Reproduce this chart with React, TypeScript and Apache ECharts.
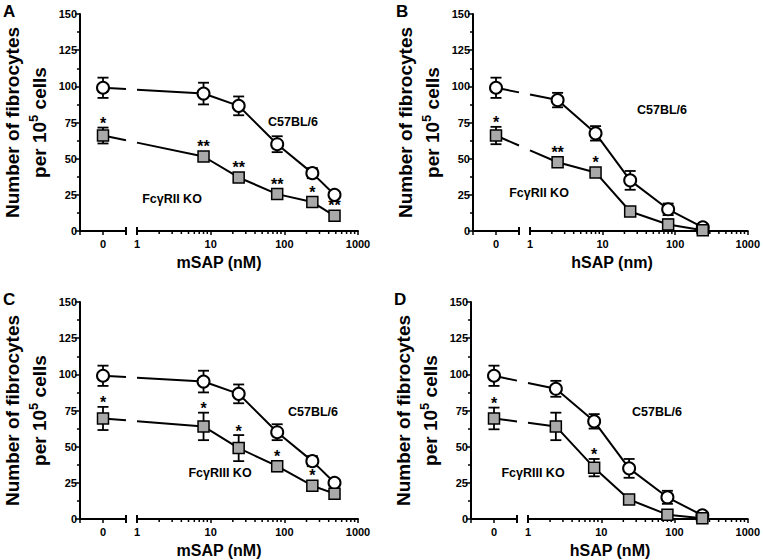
import React, { useEffect, useRef } from 'react';
import * as echarts from 'echarts';

// ---------------- data ----------------
const MSAP_NM = [0, 8, 24, 80, 240, 480];
const HSAP_NM = [0, 2.4, 8, 24, 80, 240];
const LOG_TICK_LABELS = [1, 10, 100, 1000];
const LOG_MINOR_TICKS = [2, 3, 4, 5, 6, 7, 8, 9, 20, 30, 40, 50, 60, 70, 80, 90, 200, 300, 400, 500, 600, 700, 800, 900];
const Y_MIN = 0;
const Y_MAX = 150;
const Y_STEP = 25;

const WT_A = [99, 95, 86.5, 60, 40, 25];
const WT_A_SEM = [7, 7.5, 6.5, 5.5, 3.5, 1];
const KO_A = [66, 51.5, 37, 25.5, 20, 10.5];
const KO_A_SEM = [5.5, 2, 2, 2, 3.5, 1.5];
const KO_A_SIG = ['*', '**', '**', '**', '*', '**'];

const WT_B = [99, 90.5, 67.5, 35, 15, 2.5];
const WT_B_SEM = [7, 5, 5, 6.5, 4, 1];
const KO_B = [66, 47.5, 40.5, 13.5, 4.5, 0.5];
const KO_B_SEM = [6, 2, 2, 1, 3.5, 0.5];
const KO_B_SIG = ['*', '**', '*', '', '', ''];

const WT_C = [99, 95, 86.5, 60, 40, 25];
const WT_C_SEM = [7, 7.5, 6.5, 5.5, 3.5, 1];
const KO_C = [69.5, 64, 49, 36.5, 23, 17.5];
const KO_C_SEM = [8, 9.5, 9, 3.5, 2.5, 1];
const KO_C_SIG = ['*', '*', '*', '*', '*', ''];

const WT_D = [99, 90, 67.5, 35, 15, 2.5];
const WT_D_SEM = [7, 5.5, 5, 6.5, 4.5, 1];
const KO_D = [69.5, 64, 35.5, 13.5, 3, 0.5];
const KO_D_SEM = [7.5, 9.5, 6, 1, 1, 0.5];
const KO_D_SIG = ['*', '', '*', '', '', ''];

const WT_NAME = 'C57BL/6';

// ---------------- layout ----------------
const FONT = '"Liberation Sans", Arial, Helvetica, sans-serif';
const Y_AXIS_X = 80;
const BREAK_L = 126;
const BREAK_R = 137;
const LOG_END = 358;
const PLOT_TOP = 14;
const PLOT_BOTTOM = 231;

const PANELS = [
  { letter: 'A', ox: 0, oy: 0, conc: MSAP_NM, wt: WT_A, wtSem: WT_A_SEM, ko: KO_A, koSem: KO_A_SEM, sig: KO_A_SIG,
    xTitle: 'mSAP (nM)', koName: 'FcγRII KO', wtPos: [293, 122], koPos: [172, 199] },
  { letter: 'B', ox: 393, oy: 0, conc: HSAP_NM, wt: WT_B, wtSem: WT_B_SEM, ko: KO_B, koSem: KO_B_SEM, sig: KO_B_SIG,
    xTitle: 'hSAP (nm)', koName: 'FcγRII KO', wtPos: [662, 110], koPos: [539, 193] },
  { letter: 'C', ox: 0, oy: 288, conc: MSAP_NM, wt: WT_C, wtSem: WT_C_SEM, ko: KO_C, koSem: KO_C_SEM, sig: KO_C_SIG,
    xTitle: 'mSAP (nM)', koName: 'FcγRIII KO', wtPos: [313, 412], koPos: [220, 473] },
  { letter: 'D', ox: 391, oy: 288, conc: HSAP_NM, wt: WT_D, wtSem: WT_D_SEM, ko: KO_D, koSem: KO_D_SEM, sig: KO_D_SIG,
    xTitle: 'hSAP (nM)', koName: 'FcγRIII KO', wtPos: [657, 412], koPos: [533, 473] },
];

const BLACK = '#000';
const GRAY = '#a9a9a9';
const tickLabel = { color: BLACK, fontSize: 11, fontWeight: 'bold', fontFamily: FONT };

function errRender(sigs: string[]) {
  return (params: any, api: any) => {
    const x = api.value(0);
    const y = api.value(1);
    const e = api.value(2);
    const c = api.coord([x, y]);
    const top = api.coord([x, y + e]);
    const bot = api.coord([x, Math.max(0, y - e)]);
    const cap = 5.5;
    const st = { stroke: BLACK, lineWidth: 1.8 };
    const children: any[] = [
      { type: 'line', shape: { x1: c[0], y1: top[1], x2: c[0], y2: bot[1] }, style: st },
      { type: 'line', shape: { x1: c[0] - cap, y1: top[1], x2: c[0] + cap, y2: top[1] }, style: st },
      { type: 'line', shape: { x1: c[0] - cap, y1: bot[1], x2: c[0] + cap, y2: bot[1] }, style: st },
    ];
    const s = sigs[params.dataIndex];
    if (s) {
      const yTop = Math.min(top[1], c[1] - 6);
      children.push({
        type: 'text', x: c[0], y: yTop + 4,
        style: { text: s, align: 'center', verticalAlign: 'bottom', textAlign: 'center', textVerticalAlign: 'bottom',
          fontSize: 16, fontWeight: 'bold', fontFamily: FONT, fill: BLACK },
      });
    }
    return { type: 'group', children };
  };
}

function buildOption() {
  const grid: any[] = [];
  const xAxis: any[] = [];
  const yAxis: any[] = [];
  const series: any[] = [];
  const graphic: any[] = [];

  PANELS.forEach((p, i) => {
    const gL = 2 * i;
    const gR = 2 * i + 1;
    const h = PLOT_BOTTOM - PLOT_TOP;
    grid.push({ left: p.ox + Y_AXIS_X, top: p.oy + PLOT_TOP, width: BREAK_L - Y_AXIS_X, height: h });
    grid.push({ left: p.ox + BREAK_R, top: p.oy + PLOT_TOP, width: LOG_END - BREAK_R, height: h });

    const axLine = { show: true, onZero: false, lineStyle: { color: BLACK, width: 2 } };
    xAxis.push({
      gridIndex: gL, type: 'value', min: -1, max: 1, interval: 1,
      axisLine: axLine,
      axisTick: { show: true, length: 4, lineStyle: { color: BLACK, width: 1.5 } },
      axisLabel: { ...tickLabel, margin: 7, showMinLabel: true, showMaxLabel: true, formatter: (v: number) => (v === 0 ? '0' : '') },
      splitLine: { show: false },
    });
    xAxis.push({
      gridIndex: gR, type: 'log', logBase: 10, min: 1, max: 1000,
      axisLine: axLine,
      axisTick: { show: true, length: 4, lineStyle: { color: BLACK, width: 1.5 } },
      axisLabel: { ...tickLabel, margin: 7, showMinLabel: true, showMaxLabel: true,
        formatter: (v: number) => (LOG_TICK_LABELS.includes(Math.round(v)) ? String(Math.round(v)) : '') },
      splitLine: { show: false },
      minorTick: { show: false },
    });
    yAxis.push({
      gridIndex: gL, type: 'value', min: Y_MIN, max: Y_MAX, interval: Y_STEP,
      axisLine: axLine,
      axisTick: { show: true, length: 5, lineStyle: { color: BLACK, width: 1.5 } },
      minorTick: { show: true, splitNumber: 2, length: 3, lineStyle: { color: BLACK, width: 1.5 } },
      axisLabel: { ...tickLabel, margin: 3 },
      splitLine: { show: false },
    });
    yAxis.push({ gridIndex: gR, type: 'value', min: Y_MIN, max: Y_MAX, show: false, splitLine: { show: false } });

    const zeroX = p.ox + Y_AXIS_X + (BREAK_L - Y_AXIS_X) / 2;
    const gap = BREAK_R - BREAK_L;

    // axis decoration: log minor ticks and break marks
    series.push({
      type: 'custom', xAxisIndex: gR, yAxisIndex: gR, silent: true, z: 1,
      data: [[1, 0]], encode: { x: 0, y: 1 },
      renderItem: (params: any, api: any) => {
        const o = api.coord([1, 0]);
        const ch: any[] = LOG_MINOR_TICKS.map((t) => {
          const q = api.coord([t, 0]);
          return { type: 'line', shape: { x1: q[0], y1: q[1], x2: q[0], y2: q[1] + 3 }, style: { stroke: BLACK, lineWidth: 1.5 } };
        });
        [o[0] - gap, o[0]].forEach((bx) => {
          ch.push({ type: 'line', shape: { x1: bx, y1: o[1] - 4, x2: bx, y2: o[1] + 4 }, style: { stroke: BLACK, lineWidth: 2 } });
        });
        return { type: 'group', children: ch };
      },
    });

    // broken connectors from 0 to first concentration
    series.push({
      type: 'custom', xAxisIndex: gR, yAxisIndex: gR, silent: true, z: 2,
      data: [[p.conc[1], p.wt[1], p.wt[0]], [p.conc[1], p.ko[1], p.ko[0]]],
      encode: { x: 0, y: 1 },
      renderItem: (params: any, api: any) => {
        const p1 = api.coord([api.value(0), api.value(1)]);
        const y0 = api.coord([1, api.value(2)])[1];
        const xa = p.ox + BREAK_L;
        const xb = p.ox + BREAK_R;
        const yAt = (x: number) => y0 + ((p1[1] - y0) * (x - zeroX)) / (p1[0] - zeroX);
        const st = { stroke: BLACK, lineWidth: 2 };
        return {
          type: 'group',
          children: [
            { type: 'line', shape: { x1: zeroX, y1: y0, x2: xa, y2: yAt(xa) }, style: st },
            { type: 'line', shape: { x1: xb, y1: yAt(xb), x2: p1[0], y2: p1[1] }, style: st },
          ],
        };
      },
    });

    const groups = [
      { vals: p.wt, sem: p.wtSem, sig: p.wt.map(() => ''), symbol: 'circle', size: 12, fill: '#fff', bw: 2 },
      { vals: p.ko, sem: p.koSem, sig: p.sig, symbol: 'rect', size: 11, fill: GRAY, bw: 1.5 },
    ];
    groups.forEach((g) => {
      // error bars (right part)
      series.push({
        type: 'custom', xAxisIndex: gR, yAxisIndex: gR, silent: true, z: 2,
        data: p.conc.slice(1).map((c, j) => [c, g.vals[j + 1], g.sem[j + 1]]),
        encode: { x: 0, y: 1 },
        renderItem: errRender(g.sig.slice(1)),
      });
      // error bars (zero)
      series.push({
        type: 'custom', xAxisIndex: gL, yAxisIndex: gL, silent: true, z: 2,
        data: [[p.conc[0], g.vals[0], g.sem[0]]],
        encode: { x: 0, y: 1 },
        renderItem: errRender(g.sig.slice(0, 1)),
      });
      // line with markers
      series.push({
        type: 'line', xAxisIndex: gR, yAxisIndex: gR, silent: true, z: 3,
        data: p.conc.slice(1).map((c, j) => [c, g.vals[j + 1]]),
        symbol: g.symbol, symbolSize: g.size, showSymbol: true,
        itemStyle: { color: g.fill, borderColor: BLACK, borderWidth: g.bw, opacity: 1 },
        lineStyle: { color: BLACK, width: 2 },
      });
      series.push({
        type: 'scatter', xAxisIndex: gL, yAxisIndex: gL, silent: true, z: 3,
        data: [[p.conc[0], g.vals[0]]],
        symbol: g.symbol, symbolSize: g.size,
        itemStyle: { color: g.fill, borderColor: BLACK, borderWidth: g.bw, opacity: 1 },
      });
    });

    const cy = p.oy + (PLOT_TOP + PLOT_BOTTOM) / 2;
    const txt = (text: string, x: number, y: number, size: number, extra: any = {}) => ({
      type: 'text', x, y, silent: true, ...extra,
      style: { text, fill: BLACK, fontSize: size, fontWeight: 'bold', fontFamily: FONT,
        align: 'center', verticalAlign: 'middle', textAlign: 'center', textVerticalAlign: 'middle', ...(extra.style || {}) },
    });
    graphic.push({
      type: 'text', x: p.ox + 3, y: p.oy + (i < 2 ? 3 : 3), silent: true,
      style: { text: p.letter, fill: BLACK, fontSize: 17, fontWeight: 'bold', fontFamily: FONT, align: 'left', verticalAlign: 'top', textAlign: 'left', textVerticalAlign: 'top' },
    });
    graphic.push({ ...txt('Number of fibrocytes', p.ox + 12, cy, 19), rotation: Math.PI / 2 });
    graphic.push({
      type: 'text', x: p.ox + 38, y: cy, rotation: Math.PI / 2, silent: true,
      style: {
        text: '{a|per 10}{s|5}{a| cells}', align: 'center', verticalAlign: 'middle', textAlign: 'center', textVerticalAlign: 'middle',
        fill: BLACK, fontSize: 19, fontWeight: 'bold', fontFamily: FONT,
        rich: {
          a: { fontSize: 19, fontWeight: 'bold', fontFamily: FONT, fill: BLACK, color: BLACK, lineHeight: 22, verticalAlign: 'bottom' },
          s: { fontSize: 13, fontWeight: 'bold', fontFamily: FONT, fill: BLACK, color: BLACK, lineHeight: 22, verticalAlign: 'top' },
        },
      },
    });
    graphic.push(txt(p.xTitle, p.ox + (Y_AXIS_X + LOG_END) / 2, p.oy + 262, 16));
    graphic.push(txt(WT_NAME, p.wtPos[0], p.wtPos[1], 12.5));
    graphic.push(txt(p.koName, p.koPos[0], p.koPos[1], 12.5));
  });

  return {
    animation: false,
    backgroundColor: '#fff',
    grid, xAxis, yAxis, series, graphic,
  };
}

export default function App() {
  const ref = useRef<HTMLDivElement>(null);
  useEffect(() => {
    const chart = echarts.init(ref.current as HTMLDivElement, null, { renderer: 'svg' });
    chart.setOption(buildOption() as any);
    return () => chart.dispose();
  }, []);
  return <div ref={ref} style={{ position: 'absolute', left: 0, top: 0, width: 763, height: 560 }} />;
}
